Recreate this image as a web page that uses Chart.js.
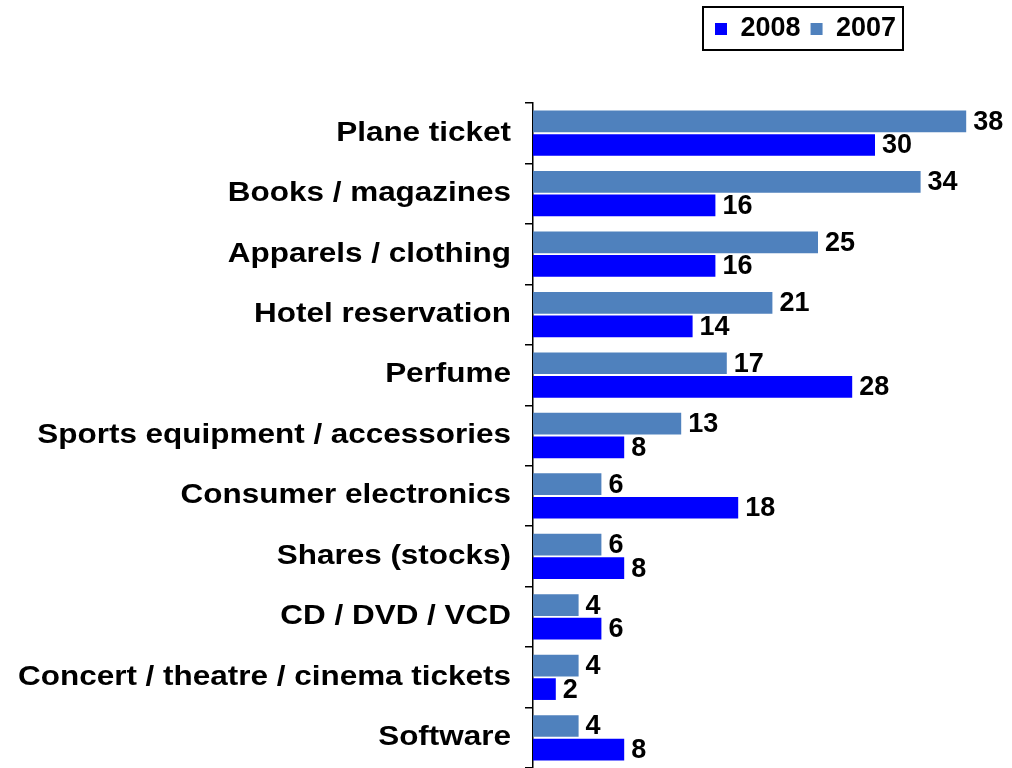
<!DOCTYPE html>
<html>
<head>
<meta charset="utf-8">
<script src="https://cdn.jsdelivr.net/npm/chart.js@4/dist/chart.umd.min.js"></script>
<style>
  html, body { margin: 0; padding: 0; background: #fff; }
  #wrap { width: 1012px; height: 768px; position: relative; }
</style>
</head>
<body>
<div id="wrap"><canvas id="purchases"></canvas></div>
<script>
const categories = [
  'Plane ticket',
  'Books / magazines',
  'Apparels / clothing',
  'Hotel reservation',
  'Perfume',
  'Sports equipment / accessories',
  'Consumer electronics',
  'Shares (stocks)',
  'CD / DVD / VCD',
  'Concert / theatre / cinema tickets',
  'Software'
];
const values2007 = [38, 34, 25, 21, 17, 13, 6, 6, 4, 4, 4];
const values2008 = [30, 16, 16, 14, 28, 8, 18, 8, 6, 2, 8];

const fontFamily = "'Liberation Sans', Arial, sans-serif";
const labelStretch = 1.165;

// legend goes to the top right, y labels are drawn a bit wider like the original
const layoutTweaks = {
  id: 'layoutTweaks',
  afterLayout(chart) {
    const lg = chart.legend;
    const h = lg.bottom - lg.top;
    lg.top = 5.5;
    lg.bottom = 5.5 + h;
    lg.left = 705;
    lg.right = 1012;

    const y = chart.scales.y;
    if (!y._stretched) {
      const orig = y.drawLabels;
      y.drawLabels = function (area) {
        const c = this.ctx;
        const ax = this.right - this.options.grid.tickLength - this.options.ticks.padding;
        c.save();
        c.translate(ax, 0);
        c.scale(labelStretch, 1);
        c.translate(-ax, 0);
        orig.call(this, area);
        c.restore();
      };
      y._stretched = true;
    }
  }
};

// black frame around the legend
const legendFrame = {
  id: 'legendFrame',
  afterDraw(chart) {
    const ctx = chart.ctx;
    ctx.save();
    ctx.strokeStyle = '#000';
    ctx.lineWidth = 2;
    ctx.strokeRect(703, 7, 200, 43);
    ctx.restore();
  }
};

// value labels at the end of each bar
const valueLabels = {
  id: 'valueLabels',
  afterDatasetsDraw(chart) {
    const ctx = chart.ctx;
    ctx.save();
    ctx.font = 'bold 27px ' + fontFamily;
    ctx.fillStyle = '#000';
    ctx.textBaseline = 'middle';
    ctx.textAlign = 'left';
    chart.data.datasets.forEach((ds, i) => {
      chart.getDatasetMeta(i).data.forEach((bar, j) => {
        ctx.fillText(ds.data[j], bar.x + 7, bar.y + 1);
      });
    });
    ctx.restore();
  }
};

new Chart(document.getElementById('purchases'), {
  type: 'bar',
  data: {
    labels: categories,
    datasets: [
      {
        label: '2007',
        data: values2007,
        backgroundColor: '#4F81BD',
        categoryPercentage: 0.78,
        barPercentage: 0.92
      },
      {
        label: '2008',
        data: values2008,
        backgroundColor: '#0000FF',
        categoryPercentage: 0.78,
        barPercentage: 0.92
      }
    ]
  },
  options: {
    indexAxis: 'y',
    responsive: true,
    maintainAspectRatio: false,
    animation: false,
    layout: {
      padding: { top: 56, right: 23, bottom: 0, left: 0 }
    },
    scales: {
      x: {
        display: false,
        min: 0,
        max: 40
      },
      y: {
        afterFit(scale) {
          scale.width = 533;
          scale.paddingTop = 0;
          scale.paddingBottom = 0;
        },
        grid: {
          display: true,
          drawOnChartArea: false,
          offset: true,
          tickLength: 8,
          color: '#000',
          lineWidth: 1.5
        },
        border: { display: true, color: '#000', width: 1.5 },
        ticks: {
          color: '#000',
          padding: 14,
          font: { family: fontFamily, size: 27, weight: 'bold' }
        }
      }
    },
    plugins: {
      tooltip: { enabled: false },
      legend: {
        position: 'top',
        align: 'start',
        reverse: true,
        labels: {
          boxWidth: 12,
          boxHeight: 12,
          padding: 10,
          color: '#000',
          font: { family: fontFamily, size: 27, weight: 'bold' }
        }
      }
    }
  },
  plugins: [layoutTweaks, legendFrame, valueLabels]
});
</script>
</body>
</html>
